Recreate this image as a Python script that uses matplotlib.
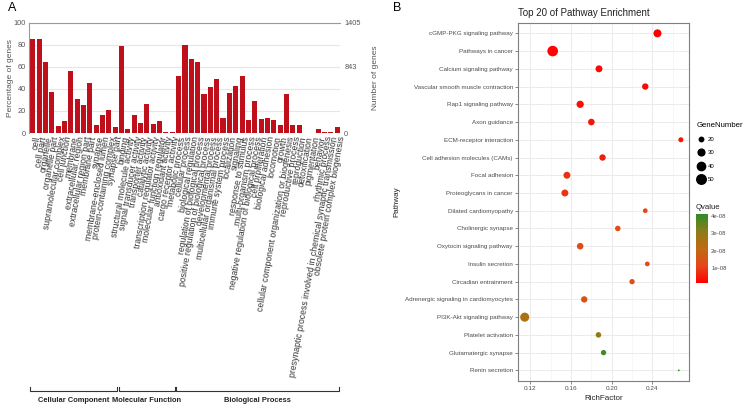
import numpy as np
import matplotlib
matplotlib.use("Agg")
import matplotlib.pyplot as plt
from matplotlib.colors import LinearSegmentedColormap, Normalize
from matplotlib.transforms import blended_transform_factory
from matplotlib.lines import Line2D
from matplotlib.cm import ScalarMappable

plt.rcParams['font.family'] = ['Liberation Sans', 'DejaVu Sans']

# ---- panel A: GO annotation ----
go_terms = [
    "cell", "cell part", "organelle", "organelle part", "supramolecular complex",
    "cell junction", "membrane", "extracellular region", "extracellular region part",
    "membrane part", "synapse", "membrane-enclosed lumen", "protein-containing complex",
    "synapse part",
    "binding", "structural molecule activity", "signal transducer activity",
    "transporter activity", "catalytic activity", "transcription regulator activity",
    "molecular function regulator", "antioxidant activity", "cargo receptor activity",
    "metabolic process", "cellular process", "biological regulation",
    "regulation of biological process", "positive regulation of biological process",
    "developmental process", "multicellular organismal process", "immune system process",
    "localization", "signaling", "response to stimulus", "multi-organism process",
    "negative regulation of biological process", "cell proliferation",
    "biological adhesion", "locomotion", "growth",
    "cellular component organization or biogenesis", "reproductive process",
    "reproduction", "detoxification", "pigmentation", "behavior", "rhythmic process",
    "presynaptic process involved in chemical synaptic transmission",
    "obsolete protein complex biogenesis",
]
go_percent = [
    85, 85, 64, 37, 6, 11, 56, 31, 25, 45, 7, 16, 21, 5,
    79, 4, 16, 9, 26, 8, 11, 0.5, 0.5,
    52, 80, 67, 64, 35, 42, 49, 14, 36, 43, 52, 12, 29, 13, 14, 12, 7.5,
    35, 7.5, 7.5, 0.3, 0.2, 3.6, 1.0, 0.5, 5.7,
]
go_groups = ["Cellular Component", "Molecular Function", "Biological Process"]
go_group_sizes = [14, 9, 26]
total_genes = 1405
right_ticks = [0, 843, 1405]

# ---- panel B: KEGG enrichment ----
pathways = [
    "cGMP-PKG signaling pathway", "Pathways in cancer", "Calcium signaling pathway",
    "Vascular smooth muscle contraction", "Rap1 signaling pathway", "Axon guidance",
    "ECM-receptor interaction", "Cell adhesion molecules (CAMs)", "Focal adhesion",
    "Proteoglycans in cancer", "Dilated cardiomyopathy", "Cholinergic synapse",
    "Oxytocin signaling pathway", "Insulin secretion", "Circadian entrainment",
    "Adrenergic signaling in cardiomyocytes", "PI3K-Akt signaling pathway",
    "Platelet activation", "Glutamatergic synapse", "Renin secretion",
]
rich_factor = [0.245, 0.142, 0.1875, 0.233, 0.169, 0.180, 0.268, 0.191, 0.156, 0.154,
               0.233, 0.206, 0.169, 0.235, 0.220, 0.173, 0.1145, 0.187, 0.192, 0.266]
gene_number = [38, 60, 31, 28, 33, 29, 22, 28, 31, 31,
               21, 24, 29, 21, 23, 28, 46, 24, 23, 16]
qvalue = [1.5e-9, 2e-9, 2.5e-9, 3e-9, 3.5e-9, 4e-9, 4.5e-9, 5.5e-9, 8e-9, 8.5e-9,
          1.2e-8, 1.25e-8, 1.3e-8, 1.3e-8, 1.35e-8, 1.4e-8, 2.5e-8, 3.0e-8, 3.9e-8, 4.12e-8]
size_breaks = [20, 30, 40, 50]
q_breaks = [1e-8, 2e-8, 3e-8, 4e-8]

W, H = 748, 407
fig = plt.figure(figsize=(W / 100, H / 100), dpi=100)

def fx(px):
    return px / W

def fy(py):
    return 1 - py / H

# ================= panel A =================
axA = fig.add_axes([fx(29), fy(133), fx(311), (133 - 22.7) / H])
x = np.arange(len(go_terms))
axA.bar(x, go_percent, width=0.8, color='#bf0f1a', zorder=2)
axA.set_xlim(-0.6, len(go_terms) - 0.55)
axA.set_ylim(0, 100)
axA.set_yticks([0, 20, 40, 60, 80, 100])
axA.yaxis.grid(True, color='#e6e6e6', lw=0.8)
axA.set_axisbelow(True)
for s in ['right', 'bottom']:
    axA.spines[s].set_visible(False)
for s in ['left', 'top']:
    axA.spines[s].set_color('#9a9a9a')
    axA.spines[s].set_linewidth(0.8)
axA.tick_params(axis='y', length=0, labelsize=5.3, labelcolor='#555555', pad=2)
axA.set_xticks(x)
axA.set_xticklabels(go_terms, rotation=80, ha='right', rotation_mode='anchor',
                    fontsize=6.2, color='#333333')
axA.tick_params(axis='x', length=0, pad=2)
axA.set_ylabel("Percentage of genes", fontsize=6, color='#555555', labelpad=0)

axA2 = axA.twinx()
axA2.set_ylim(0, total_genes)
axA2.set_yticks(right_ticks)
axA2.tick_params(axis='y', length=0, labelsize=5.3, labelcolor='#555555', pad=3)
for s in axA2.spines.values():
    s.set_visible(False)
axA2.set_ylabel("Number of genes", fontsize=6, color='#555555', labelpad=8)

# group brackets under the labels
trans = blended_transform_factory(axA.transData, fig.transFigure)
start = 0
for name, n in zip(go_groups, go_group_sizes):
    x0, x1 = start - 0.45, start + n - 0.65
    yb, yt = fy(391), fy(387)
    axA.plot([x0, x0, x1, x1], [yt, yb, yb, yt], color='#333333', lw=0.8,
             transform=trans, clip_on=False)
    axA.text((x0 + x1) / 2, fy(401), name, transform=trans, ha='center', va='center',
             fontsize=5.4, color='#222222', fontweight='bold')
    start += n

fig.text(fx(8), fy(8), "A", fontsize=9, va='center', ha='left')

# ================= panel B =================
axB = fig.add_axes([fx(517.7), fy(381), (689 - 517.7) / W, (381 - 22.7) / H])
cmap = LinearSegmentedColormap.from_list(
    "qv", ["#ff0000", "#e4481a", "#c06a12", "#8c7c18", "#2e8b2a"])
norm = Normalize(vmin=1.5e-9, vmax=4.12e-8)

g = np.asarray(gene_number, dtype=float)
gmin, gmax = g.min(), g.max()

def dot_pt(v):
    t = np.clip((np.asarray(v, dtype=float) - gmin) / (gmax - gmin), 0, 1)
    size_mm = 1 + 5 * np.sqrt(t)
    return 1.77 * size_mm * 72 / 100

ypos = np.arange(len(pathways))[::-1]
axB.scatter(rich_factor, ypos, s=dot_pt(gene_number) ** 2,
            c=qvalue, cmap=cmap, norm=norm, edgecolors='none', zorder=3)
axB.set_ylim(-0.6, len(pathways) - 0.4)
axB.set_xlim(0.1076, 0.276)
axB.set_yticks(ypos)
axB.set_yticklabels(pathways, fontsize=4.5, color='#4d4d4d')
axB.set_xticks([0.12, 0.16, 0.20, 0.24])
axB.set_xticklabels(["0.12", "0.16", "0.20", "0.24"], fontsize=4.6, color='#4d4d4d')
axB.set_xticks([0.14, 0.18, 0.22, 0.26], minor=True)
axB.grid(True, which='major', color='#ebebeb', lw=0.7)
axB.grid(True, which='minor', axis='x', color='#f4f4f4', lw=0.5)
axB.set_axisbelow(True)
axB.tick_params(which='major', length=2, width=0.5, color='#555555', pad=1.5)
axB.tick_params(which='minor', length=0)
for s in axB.spines.values():
    s.set_color('#7f7f7f')
    s.set_linewidth(0.8)
axB.set_xlabel("RichFactor", fontsize=5.8, color='#222222', labelpad=3)
axB.set_ylabel("Pathway", fontsize=5.8, color='#222222')
axB.yaxis.set_label_coords((400 - 517.7) / (689 - 517.7), 0.5)
axB.set_title("Top 20 of Pathway Enrichment", fontsize=7, color='#222222',
              pad=5, loc='left')

# GeneNumber legend
handles = [Line2D([], [], ls='none', marker='o', color='black',
                  markersize=dot_pt(b)) for b in size_breaks]
leg = fig.legend(handles, [str(b) for b in size_breaks], title="GeneNumber",
                 loc='upper left', bbox_to_anchor=(fx(694), fy(119)),
                 frameon=False, fontsize=4.3, title_fontsize=5.6,
                 labelspacing=1.35, handlelength=1.2, handletextpad=0.6,
                 borderpad=0, alignment='left')

# Qvalue colorbar
fig.text(fx(696), fy(207), "Qvalue", fontsize=5.6, va='center', ha='left', color='#222222')
cax = fig.add_axes([fx(696), fy(283), fx(12.3), 69 / H])
cb = fig.colorbar(ScalarMappable(norm=norm, cmap=cmap), cax=cax)
cb.outline.set_visible(False)
cb.set_ticks(q_breaks)
cb.set_ticklabels(["1e-08", "2e-08", "3e-08", "4e-08"])
cax.tick_params(length=0, labelsize=4.3, labelcolor='#4d4d4d', pad=2)

fig.text(fx(393), fy(8), "B", fontsize=9, va='center', ha='left')

fig.savefig("out.png", dpi=100)
